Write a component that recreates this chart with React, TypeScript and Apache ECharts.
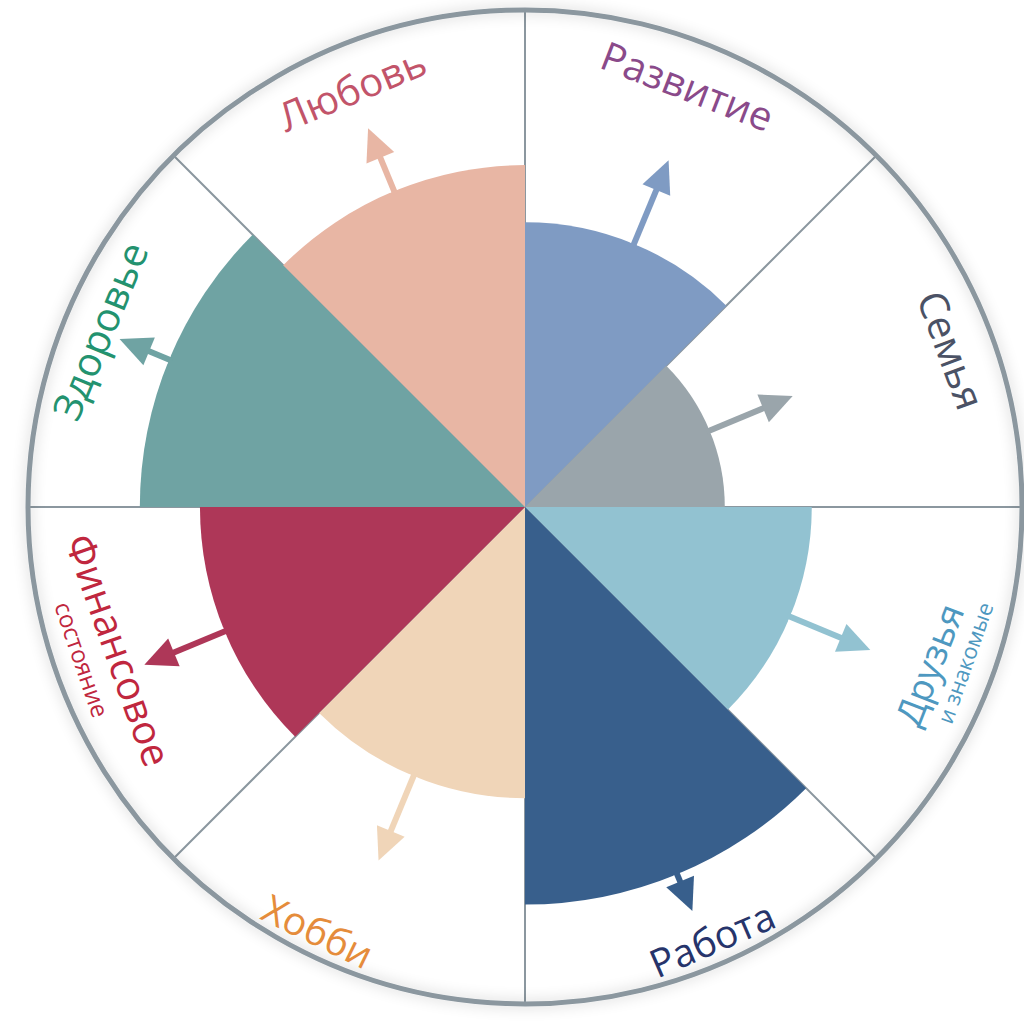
import React, { useEffect, useRef } from "react";
import * as echarts from "echarts";

// ---- data ----
const categories = [
  "Развитие",
  "Семья",
  "Друзья и знакомые",
  "Работа",
  "Хобби",
  "Финансовое состояние",
  "Здоровье",
  "Любовь",
];
const scores = [5.73, 4.02, 5.77, 8.0, 5.86, 6.54, 7.75, 6.88];
const targets = [7.55, 5.83, 7.52, 8.8, 7.7, 8.29, 8.83, 8.25];
const sectorColors = [
  "#7f9bc3",
  "#9aa5ab",
  "#92c2d1",
  "#385f8c",
  "#f0d5b8",
  "#ae3758",
  "#6fa3a3",
  "#e8b6a4",
];
const labelColors = [
  "#8a4a8a",
  "#4b5265",
  "#4e98c0",
  "#26346b",
  "#e58c3b",
  "#c0273e",
  "#23926f",
  "#c2546a",
];
const labelMain = ["Развитие", "Семья", "Друзья", "Работа", "Хобби", "Финансовое", "Здоровье", "Любовь"];
const labelSub = ["", "", "и знакомые", "", "", "состояние", "", ""];
const scaleMax = 10;

// ---- layout (not data) ----
const CX = 525;
const CY = 507;
const R = 497;
const mainLayout = [
  { theta: 21.1, r: 452, size: 40 },
  { theta: 69.8, r: 455, size: 40 },
  { theta: 111.3, r: 433, size: 37 },
  { theta: 156.6, r: 470, size: 39 },
  { theta: 206.0, r: 471, size: 39 },
  { theta: 250.6, r: 430, size: 40 },
  { theta: 292.5, r: 461, size: 40 },
  { theta: 337.5, r: 453, size: 40 },
];
const subLayout = [null, null, { theta: 109.5, r: 466, size: 22 }, null, null, { theta: 251, r: 468, size: 24 }, null, null];

const FONT = "'Open Sans', 'Noto Sans', sans-serif";

function textEl(text: string, theta: number, r: number, size: number, color: string) {
  const t = (theta * Math.PI) / 180;
  const x = CX + r * Math.sin(t);
  const y = CY - r * Math.cos(t);
  const norm = ((theta % 360) + 360) % 360;
  const rotDeg = norm > 90 && norm < 270 ? 180 - norm : -norm;
  return {
    type: "text",
    x,
    y,
    rotation: (rotDeg * Math.PI) / 180,
    z: 10,
    style: {
      text,
      fill: color,
      fontSize: size,
      fontFamily: FONT,
      fontWeight: 400,
      align: "center",
      verticalAlign: "middle",
    },
  };
}

export default function App() {
  const ref = useRef<HTMLDivElement>(null);
  useEffect(() => {
    if (!ref.current) return;
    const chart = echarts.init(ref.current, undefined, { renderer: "svg" });

    const graphics: any[] = [
      {
        type: "circle",
        shape: { cx: CX, cy: CY, r: R },
        z: 9,
        silent: true,
        style: {
          fill: "none",
          stroke: "#8b979f",
          lineWidth: 5,
          shadowBlur: 14,
          shadowColor: "rgba(0,0,0,0.22)",
        },
      },
    ];
    labelMain.forEach((t, i) => {
      const m = mainLayout[i];
      graphics.push(textEl(t, m.theta, m.r, m.size, labelColors[i]));
      const s = subLayout[i];
      if (s && labelSub[i]) graphics.push(textEl(labelSub[i], s.theta, s.r, s.size, labelColors[i]));
    });

    chart.setOption({
      animation: false,
      backgroundColor: "#ffffff",
      polar: { center: [CX, CY], radius: R },
      angleAxis: {
        type: "category",
        data: categories,
        startAngle: 90,
        clockwise: true,
        boundaryGap: true,
        axisLine: { show: false },
        axisTick: { show: false },
        axisLabel: { show: false },
        splitLine: { show: true, lineStyle: { color: "#8b979f", width: 2 } },
      },
      radiusAxis: {
        type: "value",
        min: 0,
        max: scaleMax,
        axisLine: { show: false },
        axisTick: { show: false },
        axisLabel: { show: false },
        splitLine: { show: false },
      },
      series: [
        {
          type: "bar",
          coordinateSystem: "polar",
          barCategoryGap: "0%",
          barGap: "0%",
          z: 2,
          data: scores.map((v, i) => ({ value: v, itemStyle: { color: sectorColors[i] } })),
        },
        {
          type: "custom",
          coordinateSystem: "polar",
          z: 3,
          dimensions: ["score", "cat", "tip"],
          encode: { radius: 0, angle: 1 },
          data: scores.map((v, i) => [v, i, targets[i]]),
          renderItem: (params: any, api: any) => {
            const idx = api.value(1);
            const p0 = api.coord([api.value(0), idx]);
            const p1 = api.coord([api.value(2), idx]);
            const dx = p1[0] - p0[0];
            const dy = p1[1] - p0[1];
            const len = Math.sqrt(dx * dx + dy * dy) || 1;
            const ux = dx / len;
            const uy = dy / len;
            const headLen = 32;
            const hw = 15;
            const bx = p1[0] - ux * headLen;
            const by = p1[1] - uy * headLen;
            const px = -uy;
            const py = ux;
            const color = sectorColors[params.dataIndex];
            const sx = p0[0];
            const sy = p0[1];
            return {
              type: "group",
              children: [
                {
                  type: "line",
                  shape: { x1: sx, y1: sy, x2: bx + ux * 2, y2: by + uy * 2 },
                  style: { stroke: "#ffffff", lineWidth: 9 },
                },
                {
                  type: "line",
                  shape: { x1: sx - ux * 3, y1: sy - uy * 3, x2: bx + ux * 2, y2: by + uy * 2 },
                  style: { stroke: color, lineWidth: 6 },
                },
                {
                  type: "polygon",
                  shape: {
                    points: [
                      [p1[0], p1[1]],
                      [bx + px * hw, by + py * hw],
                      [bx - px * hw, by - py * hw],
                    ],
                  },
                  style: { fill: color },
                },
              ],
            };
          },
        },
      ],
      graphic: graphics,
    });
    return () => chart.dispose();
  }, []);
  return (
    <div
      ref={ref}
      style={{ position: "fixed", left: 0, top: 0, width: 1024, height: 1024, background: "#fff" }}
    />
  );
}
